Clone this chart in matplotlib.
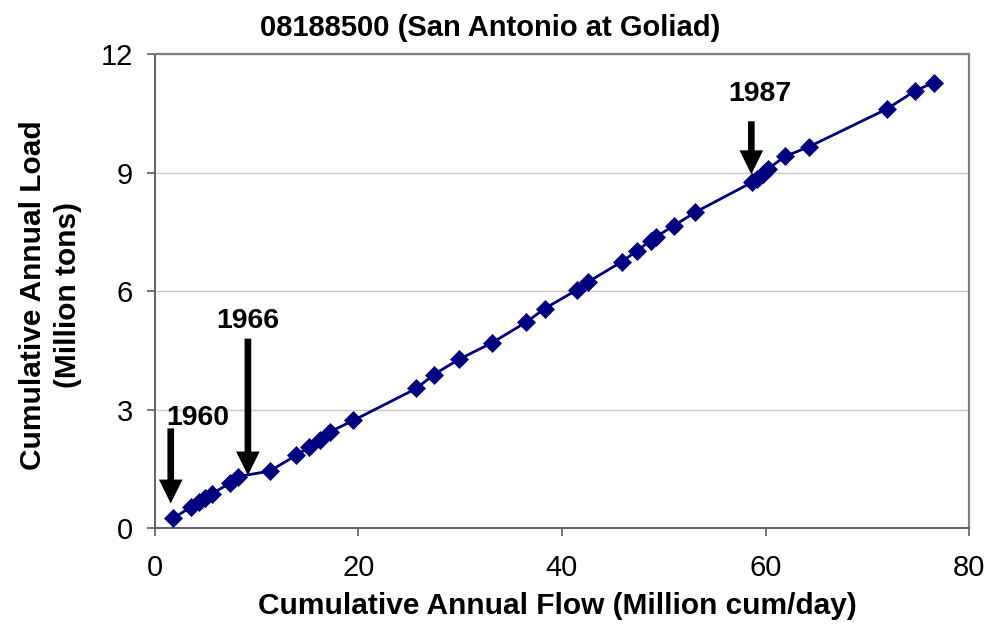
import matplotlib
matplotlib.use('Agg')
import matplotlib.pyplot as plt

# cumulative annual flow (million cum/day) and load (million tons), 1960-1995
flow = [1.8, 3.6, 4.3, 4.9, 5.6, 7.4, 8.2, 11.3, 13.9, 15.2, 16.2, 17.2,
        19.5, 25.7, 27.4, 29.9, 33.1, 36.5, 38.3, 41.5, 42.6, 45.9, 47.4,
        48.7, 49.2, 51.0, 53.1, 58.7, 59.2, 59.7, 60.2, 61.9, 64.3, 71.9,
        74.7, 76.5]
load = [0.25, 0.55, 0.66, 0.76, 0.88, 1.14, 1.31, 1.45, 1.85, 2.06, 2.23,
        2.44, 2.73, 3.54, 3.89, 4.28, 4.69, 5.22, 5.56, 6.04, 6.24, 6.75,
        7.03, 7.28, 7.37, 7.66, 8.00, 8.76, 8.85, 8.97, 9.09, 9.41, 9.66,
        10.61, 11.07, 11.28]

x_ticks = [0, 20, 40, 60, 80]
y_ticks = [0, 3, 6, 9, 12]

years = ['1960', '1966', '1987']

plt.rcParams['font.family'] = ['Liberation Sans', 'DejaVu Sans']

fig = plt.figure(figsize=(9.92, 6.29), dpi=100)
ax = fig.add_axes([0.156, 0.16, 0.821, 0.754])

ax.plot(flow, load, color='#000080', lw=2, marker='D', ms=9.5,
        mfc='#000080', mec='#000080', mew=0.5, zorder=3)

ax.set_xlim(0, 80)
ax.set_ylim(0, 12)
ax.set_xticks(x_ticks)
ax.set_yticks(y_ticks)
ax.yaxis.grid(True, color='#c8c8c8', lw=1)
ax.set_axisbelow(True)

for side in ['top', 'right']:
    ax.spines[side].set_color('#808080')
    ax.spines[side].set_linewidth(1.6)
for side in ['left', 'bottom']:
    ax.spines[side].set_color('#606060')
    ax.spines[side].set_linewidth(1.4)

ax.tick_params(direction='out', length=5.5, width=1.2, colors='#606060',
               labelcolor='black', labelsize=21)
ax.tick_params(axis='x', pad=13)
ax.tick_params(axis='y', pad=10)

fig.text(0.494, 0.955, '08188500 (San Antonio at Goliad)', ha='center',
         va='center', fontsize=21, weight='bold')
fig.text(0.562, 0.036, 'Cumulative Annual Flow (Million cum/day)',
         ha='center', va='center', fontsize=21.5, weight='bold')
fig.text(0.051, 0.531, 'Cumulative Annual Load\n(Million tons)', ha='center',
         va='center', rotation=90, fontsize=21.5, weight='bold',
         linespacing=1.35)

# arrows: (label pos, arrow top, arrow tip)
marks = [((4.2, 2.78), (1.57, 2.53), (1.57, 0.63)),
         ((9.15, 5.25), (9.15, 4.8), (9.15, 1.34)),
         ((59.4, 10.98), (58.6, 10.3), (58.6, 8.96))]
for yr, (lab, top, tip) in zip(years, marks):
    ax.annotate('', xy=tip, xytext=top,
                arrowprops=dict(arrowstyle='simple,head_length=0.86,head_width=0.85,tail_width=0.24',
                                mutation_scale=20, color='black', lw=0,
                                shrinkA=0, shrinkB=0))
    ax.text(lab[0], lab[1], yr, ha='center', va='center', fontsize=20.5,
            weight='bold')

fig.savefig('out.png', dpi=100)
